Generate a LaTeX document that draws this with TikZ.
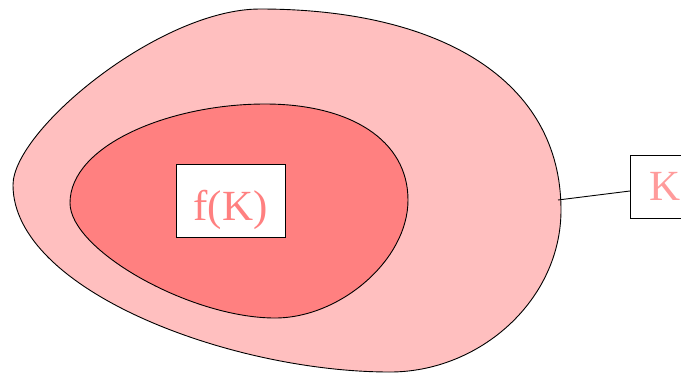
\documentclass[tikz,border=0pt]{standalone}
\usepackage{fontspec}
\setmainfont{Liberation Serif}
\definecolor{outerfill}{RGB}{255,191,191}
\definecolor{innerfill}{RGB}{255,128,128}
\definecolor{labelA}{RGB}{255,128,128}
\definecolor{labelB}{RGB}{255,155,155}
\tikzset{
  blob/.style={draw=black, line width=0.9pt},
  labelbox/.style={draw=black, fill=white, line width=0.9pt, inner sep=0pt, font=\fontsize{43}{45}\selectfont},
}
\begin{document}
\begin{tikzpicture}[x=1pt,y=-1pt]
\useasboundingbox (0,0) rectangle (681,373);
\draw[blob, fill=outerfill] (260,9)
  .. controls (440,9) and (561,80) .. (561,210)
  .. controls (561,300) and (480,372) .. (390,372)
  .. controls (230,372) and (13,290) .. (13,185)
  .. controls (13,130) and (160,9) .. (260,9) -- cycle;
\draw[blob, fill=innerfill] (265,104)
  .. controls (350,104) and (408,140) .. (408,200)
  .. controls (408,260) and (340,318) .. (275,318)
  .. controls (190,318) and (70,250) .. (70,203)
  .. controls (70,145) and (170,104) .. (265,104) -- cycle;
\node[labelbox, text=labelA, minimum width=109pt, minimum height=73pt,
      text height=45pt, text depth=6pt] (fk) at (230.5,200.5) {f(K)};
\node[labelbox, text=labelB, minimum width=71pt, minimum height=63pt,
      text height=36pt, text depth=9pt] (k) at (665.5,186.5) {K};
\coordinate (edge) at (558,200);
\coordinate (kin) at (630,191);
\draw[line width=0.9pt] (edge) -- (kin);
\end{tikzpicture}
\end{document}
